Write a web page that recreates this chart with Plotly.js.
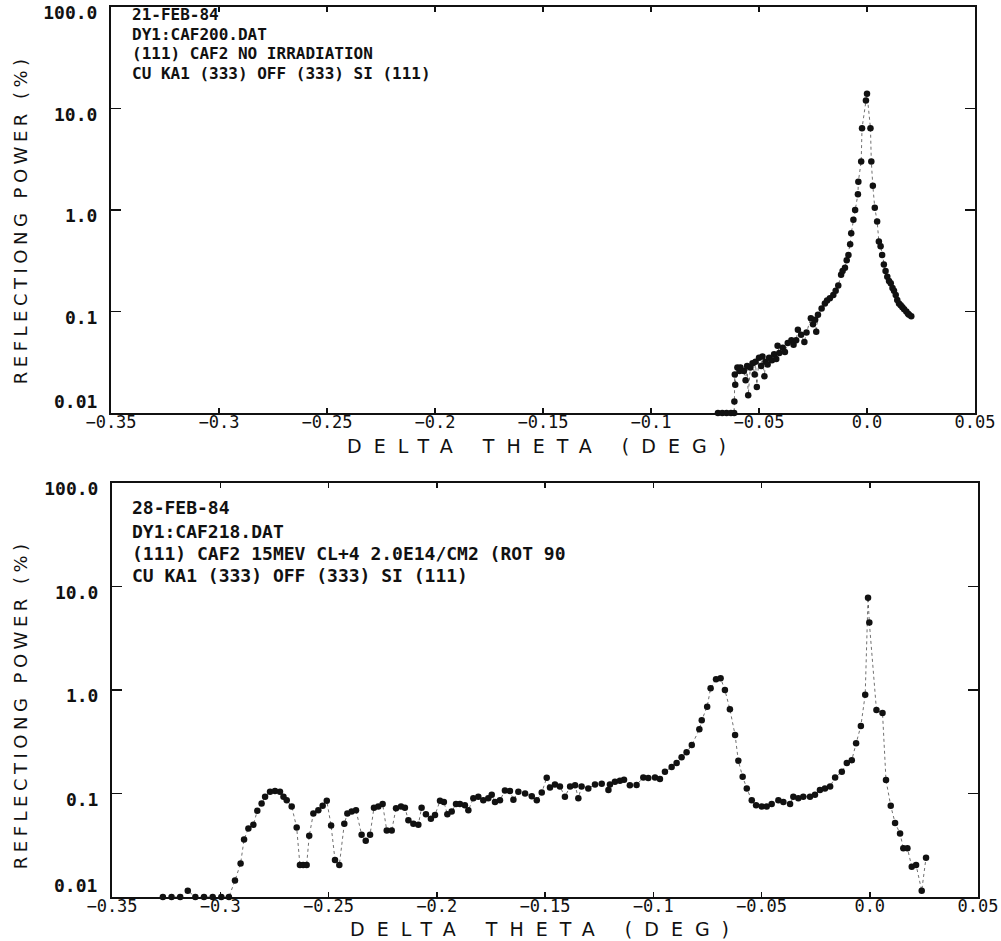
<!DOCTYPE html>
<html><head><meta charset="utf-8">
<script src="https://cdn.plot.ly/plotly-3.0.1.min.js"></script>
<style>html,body{margin:0;padding:0;background:#fff}</style>
</head><body>
<div id="chart" style="width:1001px;height:941px"></div>
<script>
// ---- data ----
const topTheta = [-0.069,-0.067,-0.065,-0.063,-0.0615,-0.0614,-0.0612,-0.0610,-0.0600,-0.0590,-0.0586,-0.0570,-0.0562,-0.0555,-0.0550,-0.0540,-0.0530,-0.0520,-0.0516,-0.0510,-0.0500,-0.0490,-0.0484,-0.0475,-0.0470,-0.0460,-0.0453,-0.0440,-0.0430,-0.0420,-0.0414,-0.0406,-0.0390,-0.0380,-0.0367,-0.0350,-0.0340,-0.0328,-0.0320,-0.0305,-0.0290,-0.0280,-0.0260,-0.0250,-0.0240,-0.0235,-0.0227,-0.0210,-0.0195,-0.0185,-0.0172,-0.0156,-0.0145,-0.0133,-0.0120,-0.0113,-0.0102,-0.0094,-0.0086,-0.0078,-0.0073,-0.0063,-0.0055,-0.0042,-0.0040,-0.0027,-0.0023,-0.0005,0.0000,0.0016,0.0020,0.0027,0.0036,0.0047,0.0055,0.0063,0.0070,0.0078,0.0086,0.0094,0.0102,0.0110,0.0118,0.0125,0.0133,0.0140,0.0148,0.0156,0.0164,0.0172,0.0182,0.0190,0.0195,0.0205];
const topPower = [0.01,0.01,0.01,0.01,0.01,0.013,0.024,0.019,0.028,0.026,0.028,0.026,0.021,0.029,0.015,0.028,0.031,0.024,0.032,0.018,0.035,0.029,0.036,0.023,0.032,0.030,0.035,0.033,0.038,0.034,0.046,0.039,0.044,0.040,0.049,0.052,0.047,0.052,0.066,0.059,0.050,0.062,0.086,0.075,0.083,0.063,0.093,0.107,0.120,0.128,0.135,0.145,0.160,0.180,0.230,0.250,0.270,0.320,0.360,0.460,0.590,0.800,1.00,1.43,1.90,3.0,6.4,12.0,14.0,6.4,3.0,1.73,1.05,0.77,0.49,0.44,0.36,0.29,0.25,0.22,0.20,0.19,0.17,0.16,0.145,0.13,0.12,0.115,0.11,0.105,0.10,0.095,0.093,0.090];

const bottomTheta = [-0.3265,-0.3225,-0.3185,-0.3150,-0.3115,-0.3075,-0.3035,-0.2995,-0.2960,-0.2932,-0.2906,-0.2890,-0.2870,-0.2847,-0.2829,-0.2809,-0.2793,-0.2770,-0.2747,-0.2724,-0.2708,-0.2693,-0.2670,-0.2647,-0.2632,-0.2617,-0.2601,-0.2589,-0.2570,-0.2547,-0.2527,-0.2508,-0.2488,-0.2470,-0.2450,-0.2427,-0.2413,-0.2393,-0.2373,-0.2347,-0.2328,-0.2308,-0.2290,-0.2270,-0.2250,-0.2231,-0.2208,-0.2188,-0.2165,-0.2147,-0.2131,-0.2108,-0.2085,-0.2070,-0.2050,-0.2027,-0.2008,-0.1985,-0.1967,-0.1951,-0.1931,-0.1911,-0.1893,-0.1870,-0.1854,-0.1831,-0.1808,-0.1785,-0.1762,-0.1746,-0.1731,-0.1708,-0.1685,-0.1662,-0.1646,-0.1623,-0.1592,-0.1561,-0.1538,-0.1515,-0.1492,-0.1477,-0.1454,-0.1431,-0.1408,-0.1384,-0.1361,-0.1346,-0.1331,-0.1300,-0.1269,-0.1238,-0.1207,-0.1200,-0.1177,-0.1154,-0.1135,-0.1108,-0.1077,-0.1046,-0.1023,-0.0992,-0.0969,-0.0946,-0.0915,-0.0892,-0.0869,-0.0846,-0.0822,-0.0787,-0.0776,-0.0751,-0.0735,-0.0710,-0.0689,-0.0669,-0.0646,-0.0622,-0.0607,-0.0587,-0.0568,-0.0545,-0.0525,-0.0499,-0.0476,-0.0453,-0.0422,-0.0399,-0.0368,-0.0353,-0.0330,-0.0307,-0.0276,-0.0253,-0.0230,-0.0207,-0.0183,-0.0160,-0.0129,-0.0106,-0.0083,-0.0063,-0.0041,-0.0021,-0.0008,-0.0002,0.0031,0.0059,0.0075,0.0097,0.0117,0.0140,0.0155,0.0174,0.0194,0.0214,0.0240,0.0260];
const bottomPower = [0.01,0.01,0.01,0.0115,0.01,0.01,0.01,0.01,0.01,0.0144,0.0211,0.036,0.046,0.050,0.068,0.080,0.093,0.104,0.106,0.104,0.093,0.086,0.075,0.047,0.0204,0.0204,0.0204,0.039,0.064,0.069,0.076,0.085,0.049,0.0228,0.0204,0.051,0.064,0.067,0.069,0.040,0.035,0.040,0.073,0.075,0.079,0.044,0.044,0.072,0.075,0.073,0.055,0.051,0.050,0.073,0.063,0.057,0.062,0.085,0.083,0.063,0.067,0.079,0.079,0.077,0.069,0.090,0.093,0.086,0.090,0.097,0.083,0.086,0.107,0.106,0.087,0.104,0.100,0.094,0.086,0.102,0.142,0.114,0.122,0.117,0.093,0.117,0.120,0.090,0.117,0.112,0.122,0.124,0.108,0.122,0.130,0.133,0.136,0.120,0.121,0.143,0.141,0.143,0.138,0.162,0.180,0.197,0.224,0.250,0.294,0.417,0.510,0.690,1.04,1.27,1.30,1.00,0.65,0.367,0.207,0.145,0.112,0.086,0.077,0.075,0.075,0.079,0.086,0.083,0.079,0.093,0.090,0.093,0.093,0.097,0.108,0.112,0.117,0.143,0.162,0.197,0.210,0.305,0.450,0.900,7.8,4.5,0.64,0.60,0.135,0.076,0.052,0.041,0.0296,0.0296,0.0196,0.0204,0.0115,0.024];

const xTickVals = [-0.35,-0.3,-0.25,-0.2,-0.15,-0.1,-0.05,0,0.05];
const xTickText = ["\u22120.35","\u22120.3","\u22120.25","\u22120.2","\u22120.15","\u22120.1","\u22120.05","0.0","0.05"];
const yTickVals = [0.01,0.1,1,10,100];
const yTickText = ["0.01","0.1","1.0","10.0","100.0"];
const topNotes = ["21-FEB-84","DY1:CAF200.DAT","(111) CAF2 NO IRRADIATION","CU KA1 (333) OFF (333) SI (111)"];
const bottomNotes = ["28-FEB-84","DY1:CAF218.DAT","(111) CAF2 15MEV CL+4 2.0E14/CM2 (ROT 90","CU KA1 (333) OFF (333) SI (111)"];
const xTitle = "DELTA THETA (DEG)";
const yTitle = "REFLECTIONG POWER (%)";

// ---- layout helpers ----
const W = 1001, H = 941;
const fx = p => p / W, fy = p => 1 - p / H;
const ink = '#111';
const tickFontY = {family: 'DejaVu Sans Mono', size: 18, color: ink, weight: 700};

function xAxis(dom, anchor) {
  return {domain: dom, anchor: anchor, range: [-0.35, 0.05], tickmode: 'array', tickvals: xTickVals, ticktext: xTickText,
    ticks: 'inside', ticklen: 5, tickwidth: 1.5, tickcolor: ink, showline: true, linewidth: 2, linecolor: ink,
    mirror: 'ticks', showgrid: false, zeroline: false, automargin: false, ticklabelstandoff: -7,
    ticklabeloverflow: 'allow', tickfont: {family: 'DejaVu Sans Mono', size: 17, color: ink}};
}
function yAxis(dom, anchor) {
  // the lowest decade label is drawn raised above the x labels (see annotations), as in the reference
  const txt = yTickText.map((t, i) => i === 0 ? '' : t);
  return {domain: dom, anchor: anchor, type: 'log', range: [-2, 2], tickmode: 'array', tickvals: yTickVals, ticktext: txt,
    ticks: 'inside', ticklen: 10, tickwidth: 1.5, tickcolor: ink, showline: true, linewidth: 2, linecolor: ink,
    mirror: 'ticks', showgrid: false, zeroline: false, automargin: false, ticklabelstandoff: 8, ticklabelshift: 6,
    ticklabeloverflow: 'allow', tickfont: tickFontY};
}

const trace = (x, y, xa, ya) => ({x: x, y: y, xaxis: xa, yaxis: ya, type: 'scatter', mode: 'lines+markers', cliponaxis: false,
  line: {color: ink, width: 0.6, dash: 'dot'}, marker: {size: 6.5, color: ink}, hoverinfo: 'skip'});

const annotations = [];
topNotes.forEach((t, i) => annotations.push({text: t, xref: 'paper', yref: 'paper', x: fx(130), y: fy([15, 34.5, 54, 73.5][i]),
  xanchor: 'left', yanchor: 'middle', showarrow: false, font: {family: 'DejaVu Sans Mono', size: 16, color: ink, weight: 700}}));
bottomNotes.forEach((t, i) => annotations.push({text: t, xref: 'paper', yref: 'paper', x: fx(130), y: fy([508, 531, 553, 575][i]),
  xanchor: 'left', yanchor: 'middle', showarrow: false, font: {family: 'DejaVu Sans Mono', size: 18, color: ink, weight: 700}}));
[[542, 446], [545, 929]].forEach(p => annotations.push({text: xTitle, xref: 'paper', yref: 'paper', x: fx(p[0]), y: fy(p[1]),
  xanchor: 'center', yanchor: 'middle', showarrow: false, font: {family: 'DejaVu Sans', size: 19, color: ink}}));
[[20, 220], [20, 705]].forEach(p => annotations.push({text: yTitle, xref: 'paper', yref: 'paper', x: fx(p[0]), y: fy(p[1]),
  xanchor: 'center', yanchor: 'middle', textangle: -90, showarrow: false, font: {family: 'DejaVu Sans', size: 18, color: ink}}));
[401, 885].forEach(py => annotations.push({text: yTickText[0], xref: 'paper', yref: 'paper', x: fx(99), y: fy(py),
  xanchor: 'right', yanchor: 'middle', showarrow: false, font: tickFontY}));

const layout = {
  width: W, height: H, margin: {l: 0, r: 0, t: 0, b: 0}, paper_bgcolor: '#fff', plot_bgcolor: '#fff', showlegend: false,
  xaxis: xAxis([fx(111), fx(975)], 'y'), yaxis: yAxis([fy(413), fy(7)], 'x'),
  xaxis2: xAxis([fx(112), fx(978)], 'y2'), yaxis2: yAxis([fy(897), fy(483)], 'x2'),
  annotations: annotations
};

Plotly.newPlot('chart', [trace(topTheta, topPower, 'x', 'y'), trace(bottomTheta, bottomPower, 'x2', 'y2')], layout, {staticPlot: true})
  .then(gd => {
    gd.querySelectorAll('.annotation-text').forEach(t => {
      if (t.textContent === xTitle) t.style.letterSpacing = '12px';
      else if (t.textContent === yTitle) t.style.letterSpacing = '4.5px';
    });
  });
</script>
</body></html>
